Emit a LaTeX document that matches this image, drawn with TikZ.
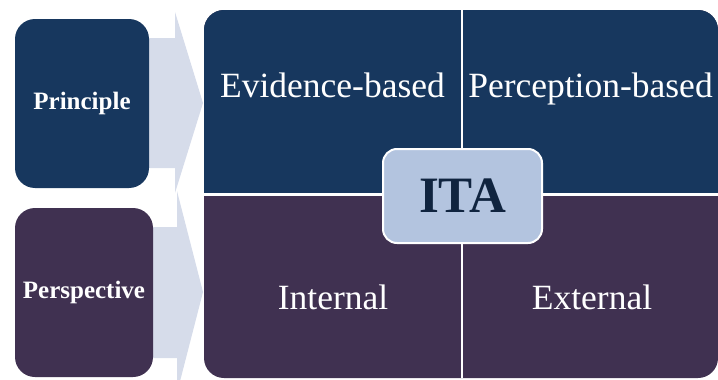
\documentclass[tikz,border=0pt]{standalone}
\usepackage{fontspec}
\setmainfont{Liberation Serif}
\definecolor{navy}{HTML}{17375E}
\definecolor{plum}{HTML}{403151}
\definecolor{pale}{HTML}{D6DCEA}
\definecolor{itafill}{HTML}{B3C4DF}
\definecolor{itatext}{HTML}{10243F}
\begin{document}
\begin{tikzpicture}[x=1pt, y=-1pt, line join=round,
	side/.style={rounded corners=20pt, text=white, font=\fontsize{25}{25}\selectfont\bfseries, inner sep=0pt},
	quad/.style={text=white, font=\fontsize{35.5}{36}\selectfont, anchor=base, inner sep=0pt},
	hub/.style={draw=white, line width=2pt, fill=itafill, rounded corners=14pt, text=itatext, font=\fontsize{51}{51}\selectfont\bfseries, minimum width=159pt, minimum height=94pt}]
	\clip (0,0) rectangle (718,380);
	% block arrows
	\fill[pale] (140,38)--(175,38)--(175,12)--(203,103)--(175,193)--(175,168)--(140,168)--cycle;
	\fill[pale] (140,227)--(177,227)--(177,191)--(203,292)--(177,393)--(177,358)--(140,358)--cycle;
	% left boxes
	\node[side, fill=navy, minimum width=134pt, minimum height=169pt] (prin) at (82,103.5) {Principle};
	\node[side, fill=plum, minimum width=138pt, minimum height=169pt] (persp) at (84,292.5) {Perspective};
	% panel
	\fill[plum, rounded corners=20pt] (204,10) rectangle (718,378);
	\begin{scope}
	\clip (0,0) rectangle (718,194.5);
	\fill[navy, rounded corners=20pt] (204,10) rectangle (718,378);
	\end{scope}
	\draw[white, line width=2.5pt] (204,194.5)--(718,194.5);
	\draw[white, line width=2pt] (462,10)--(462,378);
	\foreach \nm/\px/\py/\txt in {evid/332.5/97/Evidence-based, perc/590.5/97/Perception-based,
		intern/333/309/Internal, extern/592/309/External}
	\node[quad] (\nm) at (\px,\py) {\txt};
	\node[hub] (ita) at (462.5,196) {ITA};
\end{tikzpicture}
\end{document}
